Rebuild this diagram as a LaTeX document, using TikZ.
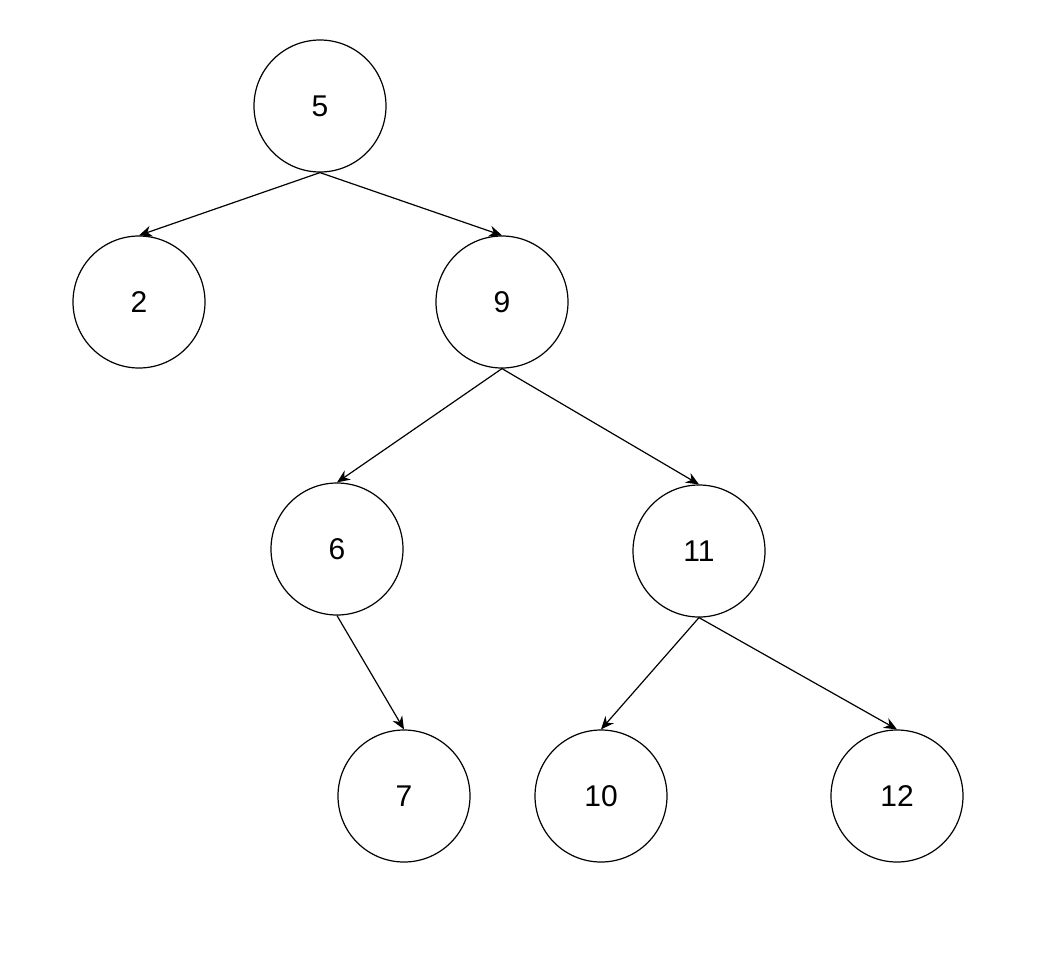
\documentclass[tikz,border=0pt]{standalone}
\usepackage{fontspec}
\setmainfont{Liberation Sans}
\usetikzlibrary{arrows.meta}
\begin{document}
\begin{tikzpicture}[x=1pt,y=-1pt,
  tn/.style={circle,draw,line width=1.2pt,minimum size=132pt,inner sep=0pt,font=\fontsize{30}{30}\selectfont},
  edge/.style={line width=1.2pt,-{Stealth[length=13pt,width=11pt]}}]
\useasboundingbox (0,0) rectangle (1046,962);
\node[tn] (n5) at (320,106) {5};
\node[tn] (n2) at (139,302) {2};
\node[tn] (n9) at (502,302) {9};
\node[tn] (n6) at (337,549) {6};
\node[tn] (n11) at (699,551) {11};
\node[tn] (n7) at (404,796) {7};
\node[tn] (n10) at (601,796) {10};
\node[tn] (n12) at (897,796) {12};
\draw[edge] (n5.south) -- (n2.north);
\draw[edge] (n5.south) -- (n9.north);
\draw[edge] (n9.south) -- (n6.north);
\draw[edge] (n9.south) -- (n11.north);
\draw[edge] (n6.south) -- (n7.north);
\draw[edge] (n11.south) -- (n10.north);
\draw[edge] (n11.south) -- (n12.north);
\end{tikzpicture}
\end{document}
